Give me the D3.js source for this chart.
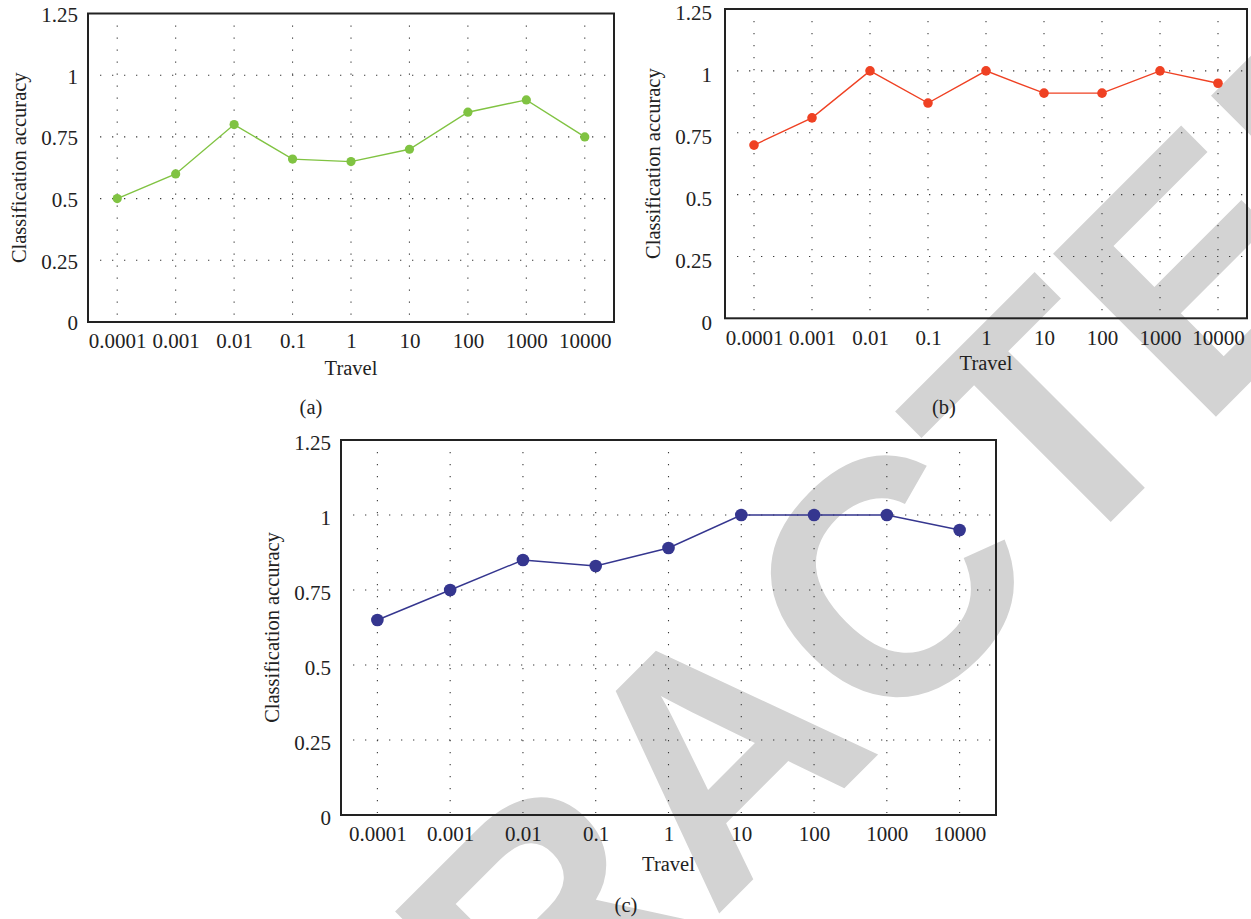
<!DOCTYPE html>
<html>
<head>
<meta charset="utf-8">
<script src="https://cdn.jsdelivr.net/npm/d3@7"></script>
<style>
  html, body { margin: 0; padding: 0; background: #ffffff; }
  svg { display: block; }
</style>
</head>
<body>
<svg id="chart" width="1251" height="919"></svg>
<script>
// ---------------- data ----------------
const categories = ["0.0001", "0.001", "0.01", "0.1", "1", "10", "100", "1000", "10000"];
const accuracyA = [0.50, 0.60, 0.80, 0.66, 0.65, 0.70, 0.85, 0.90, 0.75];
const accuracyB = [0.70, 0.81, 1.00, 0.87, 1.00, 0.91, 0.91, 1.00, 0.95];
const accuracyC = [0.65, 0.75, 0.85, 0.83, 0.89, 1.00, 1.00, 1.00, 0.95];
const yTicks = [0, 0.25, 0.5, 0.75, 1, 1.25];
const yTickLabels = ["0", "0.25", "0.5", "0.75", "1", "1.25"];
const xTitle = "Travel";
const yTitle = "Classification accuracy";
const panelLabels = ["(a)", "(b)", "(c)"];
const watermarkText = "RETRACTED";

// ---------------- layout / style ----------------
const svg = d3.select("#chart");
const FONT = "'Liberation Serif', 'Times New Roman', serif";

const panels = [
  { values: accuracyA, color: "#80c342", r: 4.6, left: 88, right: 614, top: 13.5, bottom: 322,
    yLabGap: 10, yLabShift: 0.5, xTitleGap: 46, yTitleGap: 69, label: panelLabels[0], labelX: 311, labelY: 407 },
  { values: accuracyB, color: "#ef4123", r: 4.8, left: 725, right: 1247, top: 9, bottom: 318.3,
    yLabGap: 13, yLabShift: 3.5, xTitleGap: 44.5, yTitleGap: 72, label: panelLabels[1], labelX: 944, labelY: 407 },
  { values: accuracyC, color: "#35368f", r: 6.3, left: 341, right: 996, top: 440, bottom: 815,
    yLabGap: 10, yLabShift: 2, xTitleGap: 49, yTitleGap: 69, label: panelLabels[2], labelX: 626, labelY: 905 }
];

// ---------------- watermark (behind everything) ----------------
svg.append("text")
  .attr("transform", "translate(714,749) rotate(-45)")
  .attr("text-anchor", "middle")
  .attr("dy", "0.358em")
  .attr("font-family", "'Liberation Sans', Arial, sans-serif")
  .attr("font-weight", "bold")
  .attr("font-size", 335)
  .attr("fill", "#d3d3d3")
  .text(watermarkText);

// ---------------- panels ----------------
panels.forEach(p => {
  const g = svg.append("g");
  const x = d3.scalePoint().domain(categories).range([p.left, p.right]).padding(0.5);
  const y = d3.scaleLinear().domain([0, 1.25]).range([p.bottom, p.top]);

  // dotted grid
  g.append("g").selectAll("line")
    .data(yTicks.filter(t => t > 0 && t < 1.25))
    .join("line")
    .attr("x1", p.left + 2).attr("x2", p.right - 2)
    .attr("y1", d => y(d)).attr("y2", d => y(d))
    .attr("stroke", "#3a3a3a").attr("stroke-width", 1.1)
    .attr("stroke-dasharray", "1.3 10.7")
    .attr("stroke-dashoffset", -10);
  g.append("g").selectAll("line")
    .data(categories)
    .join("line")
    .attr("x1", d => x(d)).attr("x2", d => x(d))
    .attr("y1", p.top + 2).attr("y2", p.bottom - 2)
    .attr("stroke", "#3a3a3a").attr("stroke-width", 1.1)
    .attr("stroke-dasharray", "1.3 10.7")
    .attr("stroke-dashoffset", -10);

  // frame
  g.append("rect")
    .attr("x", p.left).attr("y", p.top)
    .attr("width", p.right - p.left).attr("height", p.bottom - p.top)
    .attr("fill", "none").attr("stroke", "#222").attr("stroke-width", 2);

  // axes (labels only)
  const xAxis = d3.axisBottom(x).tickSize(0).tickPadding(0);
  const xa = g.append("g").attr("transform", `translate(0,${p.bottom})`).call(xAxis);
  xa.select(".domain").remove();
  xa.selectAll("text")
    .attr("y", 19).attr("dy", "0.35em")
    .attr("font-family", FONT).attr("font-size", 21).attr("fill", "#222");

  const yAxis = d3.axisLeft(y).tickValues(yTicks)
    .tickFormat((d, i) => yTickLabels[i]).tickSize(0).tickPadding(p.yLabGap);
  const ya = g.append("g").attr("transform", `translate(${p.left},${p.yLabShift})`).call(yAxis);
  ya.select(".domain").remove();
  ya.selectAll("text")
    .attr("dy", "0.35em")
    .attr("font-family", FONT).attr("font-size", 21).attr("fill", "#222");

  // titles
  g.append("text")
    .attr("x", (p.left + p.right) / 2).attr("y", p.bottom + p.xTitleGap)
    .attr("dy", "0.35em").attr("text-anchor", "middle")
    .attr("font-family", FONT).attr("font-size", 20.5).attr("fill", "#222")
    .text(xTitle);
  g.append("text")
    .attr("transform", `translate(${p.left - p.yTitleGap},${(p.top + p.bottom) / 2}) rotate(-90)`)
    .attr("dy", "0.35em").attr("text-anchor", "middle")
    .attr("font-family", FONT).attr("font-size", 20.5).attr("fill", "#222")
    .text(yTitle);

  // series line + markers
  const line = d3.line().x((d, i) => x(categories[i])).y(d => y(d));
  g.append("path").datum(p.values)
    .attr("d", line).attr("fill", "none")
    .attr("stroke", p.color).attr("stroke-width", 1.4);
  g.append("g").selectAll("circle")
    .data(p.values)
    .join("circle")
    .attr("cx", (d, i) => x(categories[i])).attr("cy", d => y(d))
    .attr("r", p.r).attr("fill", p.color);

  // panel label
  g.append("text")
    .attr("x", p.labelX).attr("y", p.labelY)
    .attr("dy", "0.35em").attr("text-anchor", "middle")
    .attr("font-family", FONT).attr("font-size", 20.5).attr("fill", "#222")
    .text(p.label);
});
</script>
</body>
</html>
